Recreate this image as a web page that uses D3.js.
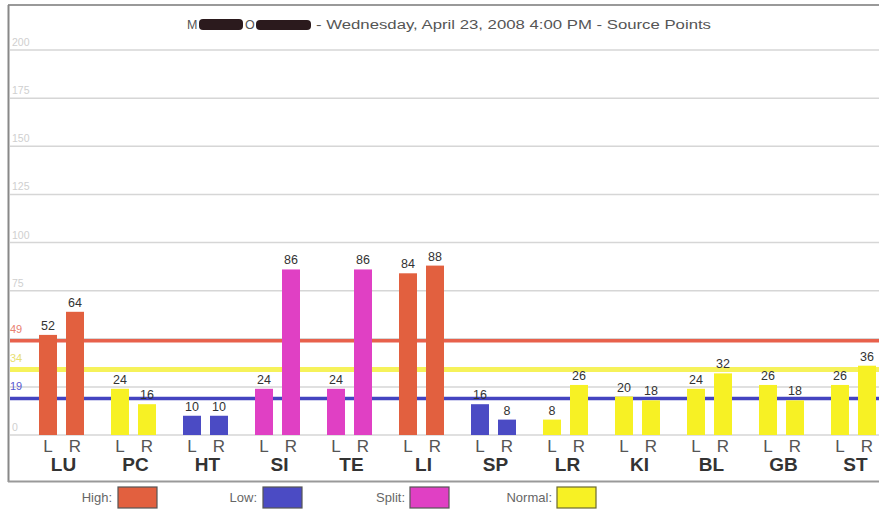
<!DOCTYPE html>
<html>
<head>
<meta charset="utf-8">
<script src="https://cdn.jsdelivr.net/npm/d3@7/dist/d3.min.js"></script>
<style>
  html, body { margin: 0; padding: 0; background: #fff; }
  svg { display: block; }
</style>
</head>
<body>
<script>
// ---- data ----
const categories = ["LU", "PC", "HT", "SI", "TE", "LI", "SP", "LR", "KI", "BL", "GB", "ST"];
const leftValues  = [52, 24, 10, 24, 24, 84, 16,  8, 20, 24, 26, 26];
const rightValues = [64, 16, 10, 86, 86, 88,  8, 26, 18, 32, 18, 36];
const status = ["High", "Normal", "Low", "Split", "Split", "High", "Low", "Normal", "Normal", "Normal", "Normal", "Normal"];
const sides = ["L", "R"];
const yTicks = [0, 75, 100, 125, 150, 175, 200];
const gridValues = [0, 25, 50, 75, 100, 125, 150, 175, 200];
const thresholdNames = ["High", "Normal", "Low"];
const thresholdValues = [49, 34, 19];
const legendNames = ["High", "Low", "Split", "Normal"];
const titleText = "- Wednesday, April 23, 2008 4:00 PM - Source Points";

const colors = { High: "#e2603f", Low: "#4b4bc4", Split: "#e040c4", Normal: "#f7f124" };
const lineColors = { High: "#e8614c", Normal: "#f6f25a", Low: "#4444c0" };
const labelColors = { High: "#e88070", Normal: "#e8e070", Low: "#5a5ad0" };

const W = 879, H = 510;
const svg = d3.select("body").append("svg").attr("width", W).attr("height", H)
  .style("font-family", "'Liberation Sans', Arial, sans-serif");

const y = d3.scaleLinear().domain([0, 200]).range([435, 50]);
const x = d3.scaleBand().domain(categories).range([25.5, 889.5]).paddingInner(0).paddingOuter(0);
const xs = d3.scaleBand().domain(sides).range([13.5, 58.5]).paddingInner(1 / 3).paddingOuter(0);

// frame
svg.append("line").attr("x1", 8).attr("x2", W).attr("y1", 5).attr("y2", 5)
  .attr("stroke", "#999").attr("stroke-width", 2);
svg.append("line").attr("x1", 8.5).attr("x2", 8.5).attr("y1", 5).attr("y2", 482)
  .attr("stroke", "#888").attr("stroke-width", 2);
svg.append("line").attr("x1", 8).attr("x2", W).attr("y1", 481.5).attr("y2", 481.5)
  .attr("stroke", "#999").attr("stroke-width", 2);

// title
const tg = svg.append("g").attr("fill", "#555").style("font-size", "12.5px");
tg.append("text").attr("x", 187).attr("y", 29).text("M");
tg.append("rect").attr("x", 199).attr("y", 19).attr("width", 44).attr("height", 11).attr("rx", 4).attr("fill", "#2b1a1d");
tg.append("text").attr("x", 245).attr("y", 29).text("O");
tg.append("rect").attr("x", 256).attr("y", 20).attr("width", 55).attr("height", 10).attr("rx", 4).attr("fill", "#2b1a1d");
tg.append("text").attr("x", 316).attr("y", 29).attr("textLength", 395).attr("lengthAdjust", "spacingAndGlyphs").text(titleText);

// gridlines
svg.append("g").selectAll("line").data(gridValues).join("line")
  .attr("x1", 10).attr("x2", W).attr("y1", d => y(d)).attr("y2", d => y(d))
  .attr("stroke", "#d6d6d6").attr("stroke-width", 1.5);

// y tick labels (faint)
svg.append("g").selectAll("text").data(yTicks).join("text")
  .attr("x", 12).attr("y", d => y(d) - 4)
  .attr("fill", "#cfcfcf").style("font-size", "10.5px").text(d => d);

// threshold lines
thresholdValues.forEach((v, i) => {
  const n = thresholdNames[i];
  svg.append("line").attr("x1", 10).attr("x2", W).attr("y1", y(v)).attr("y2", y(v))
    .attr("stroke", lineColors[n]).attr("stroke-width", n === "Normal" ? 5 : 3.5);
  svg.append("text").attr("x", 10).attr("y", y(v) - 8)
    .attr("fill", labelColors[n]).style("font-size", "11px").text(v);
});

// bars
const rows = [];
categories.forEach((c, i) => {
  rows.push({ c, side: "L", v: leftValues[i], s: status[i] });
  rows.push({ c, side: "R", v: rightValues[i], s: status[i] });
});

const bg = svg.append("g");
bg.selectAll("rect").data(rows).join("rect")
  .attr("x", d => x(d.c) + xs(d.side))
  .attr("width", xs.bandwidth())
  .attr("y", d => y(d.v))
  .attr("height", d => y(0) - y(d.v))
  .attr("fill", d => colors[d.s]);

// value labels
svg.append("g").selectAll("text").data(rows).join("text")
  .attr("x", d => x(d.c) + xs(d.side) + xs.bandwidth() / 2)
  .attr("y", d => y(d.v) - 5)
  .attr("text-anchor", "middle").attr("fill", "#333").style("font-size", "12.5px")
  .text(d => d.v);

// L / R labels
svg.append("g").selectAll("text").data(rows).join("text")
  .attr("x", d => x(d.c) + xs(d.side) + xs.bandwidth() / 2)
  .attr("y", 452)
  .attr("text-anchor", "middle").attr("fill", "#555").style("font-size", "17px")
  .text(d => d.side);

// category labels
svg.append("g").selectAll("text").data(categories).join("text")
  .attr("x", d => x(d) + x.bandwidth() / 2 + 2)
  .attr("y", 471)
  .attr("text-anchor", "middle").attr("fill", "#333").style("font-size", "19px").style("font-weight", "bold")
  .text(d => d);

// legend
const legendTextEnd = [112, 257, 405, 552];
const legendSwatchX = [118, 263, 410, 557];
const lg = svg.append("g");
legendNames.forEach((n, i) => {
  lg.append("text").attr("x", legendTextEnd[i]).attr("y", 502).attr("text-anchor", "end")
    .attr("fill", "#666").style("font-size", "13px").text(n + ":");
  lg.append("rect").attr("x", legendSwatchX[i]).attr("y", 487).attr("width", 39).attr("height", 21)
    .attr("fill", colors[n]).attr("stroke", n === "Normal" ? "#6b6a30" : "#555").attr("stroke-width", 1.2);
});
</script>
</body>
</html>
